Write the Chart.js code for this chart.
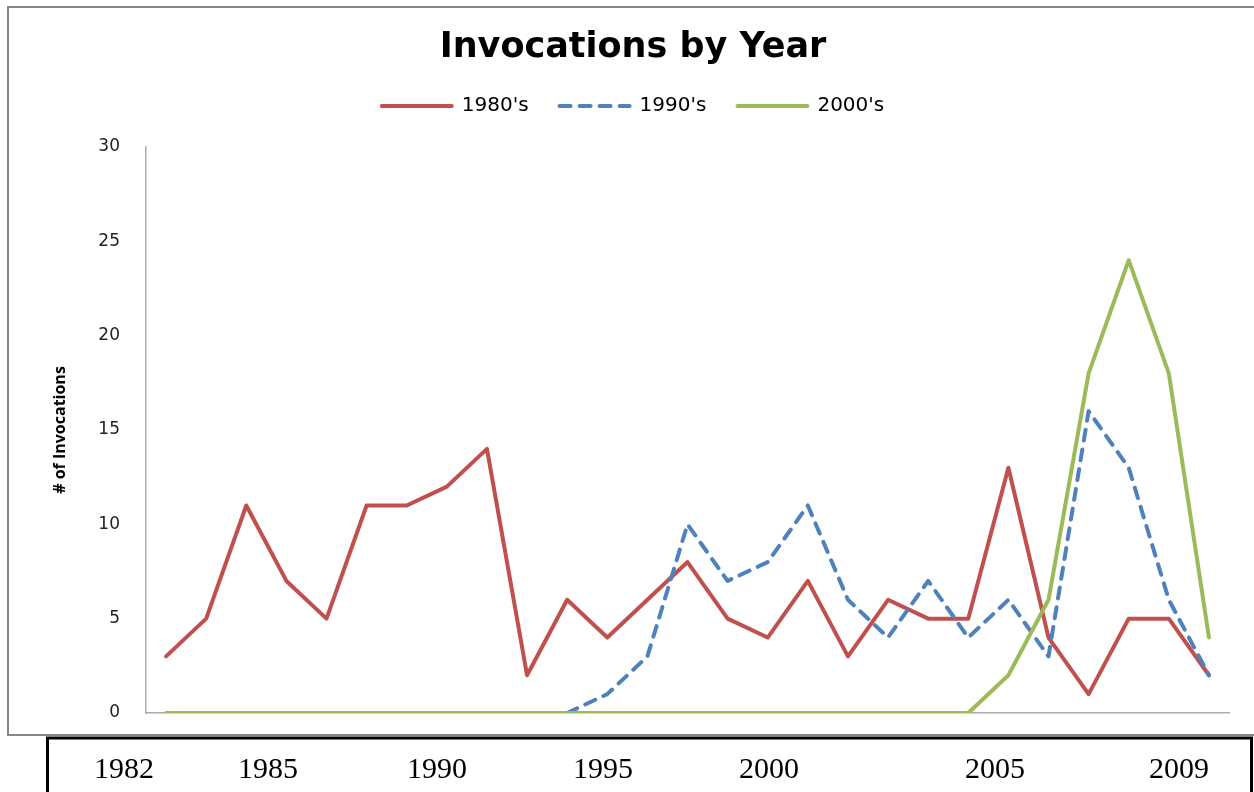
<!DOCTYPE html>
<html>
<head>
<meta charset="utf-8">
<title>Invocations by Year</title>
<script src="https://cdn.jsdelivr.net/npm/chart.js@4.4.0/dist/chart.umd.min.js"></script>
<style>
  html, body { margin: 0; padding: 0; background: #fff; }
  #chart { display: block; }
</style>
</head>
<body>
<canvas id="chart" width="1254" height="792"></canvas>
<script>
// data
const years = ['1983', '1984', '1985', '1986', '1987', '1988', '1989', '1990', '1991',
    '1992', '1993', '1994', '1995', '1996', '1997', '1998', '1999', '2000', '2001',
    '2002', '2003', '2004', '2005', '2006', '2007', '2008', '2009'];
const invocations80s = [3, 5, 11, 7, 5, 11, 11, 12, 14, 2, 6, 4, 6, 8, 5, 4, 7, 3, 6, 5, 5, 13, 4, 1, 5, 5, 2];
const invocations90s = [null, null, null, null, null, null, null, null, null, null,
    0, 1, 3, 10, 7, 8, 11, 6, 4, 7, 4, 6, 3, 16, 13, 6, 2];
const invocations00s = [0, 0, 0, 0, 0, 0, 0, 0, 0, 0, 0, 0, 0, 0, 0, 0, 0, 0, 0, 0, 0,
    2, 6, 18, 24, 18, 4];
const yTicks = [0, 5, 10, 15, 20, 25, 30];
const tableYears = ['1982', '1985', '1990', '1995', '2000', '2005', '2009'];

// layout of the frame and the pasted year table underneath
const frameBox = { left: 8, top: 7, right: 1262, bottom: 735 };
const tableBox = { left: 47.5, top: 738, right: 1251.5, bottom: 800 };
const tableLabelX = [124, 268, 437, 603, 769, 995, 1179];
const tableBaseline = 778;

const framePlugin = {
    id: 'frame',
    beforeInit(chart) {
        // leave a gap between the legend and the plot
        const fit = chart.legend.fit;
        chart.legend.fit = function () {
            fit.call(this);
            this.height += 21;
        };
    },
    beforeDraw(chart) {
        const ctx = chart.ctx;
        ctx.save();
        ctx.strokeStyle = '#878787';
        ctx.lineWidth = 2;
        ctx.strokeRect(frameBox.left, frameBox.top,
            frameBox.right - frameBox.left, frameBox.bottom - frameBox.top);
        ctx.restore();
    },
    afterDraw(chart) {
        const ctx = chart.ctx;
        ctx.save();
        ctx.strokeStyle = '#000';
        ctx.lineWidth = 3;
        ctx.strokeRect(tableBox.left, tableBox.top,
            tableBox.right - tableBox.left, tableBox.bottom - tableBox.top);
        ctx.fillStyle = '#000';
        ctx.font = '30px "Liberation Serif", "Times New Roman", serif';
        ctx.textAlign = 'center';
        ctx.textBaseline = 'alphabetic';
        tableYears.forEach((t, i) => ctx.fillText(t, tableLabelX[i], tableBaseline));
        ctx.restore();
    }
};

function legendLabels(chart) {
    return chart.data.datasets.map((ds, i) => ({
        text: ds.label,
        datasetIndex: i,
        fillStyle: ds.borderColor,
        strokeStyle: ds.borderColor,
        lineWidth: 4,
        lineDash: ds.borderDash || [],
        lineCap: 'round',
        pointStyle: 'line',
        hidden: false,
        fontColor: '#000'
    }));
}

function lineSet(label, data, color, order, dash) {
    return {
        label: label,
        data: data,
        borderColor: color,
        backgroundColor: color,
        borderWidth: 4,
        borderDash: dash,
        borderCapStyle: 'round',
        borderJoinStyle: 'round',
        pointRadius: 0,
        tension: 0,
        order: order
    };
}

new Chart(document.getElementById('chart'), {
    type: 'line',
    data: {
        labels: years,
        datasets: [
            lineSet("1980's", invocations80s, '#C0504D', 3, []),
            lineSet("1990's", invocations90s, '#4F81BD', 2, [11, 9]),
            lineSet("2000's", invocations00s, '#9BBB59', 1, [])
        ]
    },
    options: {
        responsive: false,
        animation: false,
        layout: { padding: { top: 0, left: 37, right: 25, bottom: 79 } },
        plugins: {
            title: {
                display: true,
                text: 'Invocations by Year',
                color: '#000',
                font: { family: 'DejaVu Sans', size: 35, weight: 'bold', lineHeight: 1 },
                padding: { top: 30, bottom: 0 }
            },
            legend: {
                labels: {
                    usePointStyle: true,
                    pointStyleWidth: 70,
                    padding: 31,
                    color: '#000',
                    font: { family: 'DejaVu Sans', size: 20 },
                    generateLabels: legendLabels
                }
            },
            tooltip: { enabled: false }
        },
        scales: {
            x: {
                offset: true,
                grid: { display: false, drawTicks: false },
                border: { color: '#ababab', width: 1.5 },
                ticks: { display: false }
            },
            y: {
                min: 0,
                max: 30,
                afterBuildTicks: scale => {
                    scale.ticks = yTicks.map(v => ({ value: v }));
                },
                afterFit: scale => {
                    scale.width = 109;
                },
                grid: { display: false, drawTicks: false },
                border: { color: '#ababab', width: 1.5 },
                ticks: {
                    padding: 26,
                    color: '#222',
                    font: { family: 'DejaVu Sans', size: 17 }
                },
                title: {
                    display: true,
                    text: '# of Invocations',
                    color: '#000',
                    font: { family: 'Open Sans', size: 16, weight: 'bold' },
                    padding: { top: 14, bottom: 28 }
                }
            }
        }
    },
    plugins: [framePlugin]
});
</script>
</body>
</html>
